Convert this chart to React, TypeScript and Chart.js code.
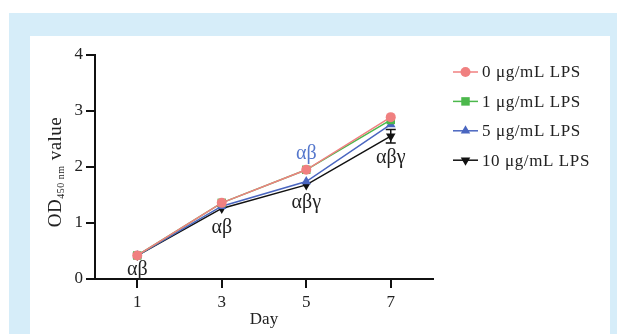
import React, { useEffect, useRef } from 'react';
import { Chart, registerables } from 'chart.js';
import { drawPoint } from 'chart.js/helpers';
Chart.register(...registerables);

const days = [1, 3, 5, 7];
const dayTicks = [1, 3, 5, 7];
const seriesLabels = ['0 μg/mL LPS', '1 μg/mL LPS', '5 μg/mL LPS', '10 μg/mL LPS'];
const lps0 = [0.42, 1.36, 1.95, 2.89];
const lps1 = [0.42, 1.36, 1.95, 2.84];
const lps5 = [0.42, 1.3, 1.74, 2.76];
const lps10 = [0.42, 1.26, 1.68, 2.55];
const lps10Err = [0, 0, 0, 0.12];
const sigTexts = ['αβ', 'αβ', 'αβ', 'αβγ', 'αβγ'];
const sigDayIndex = [0, 1, 2, 2, 3];
const sigSeriesIndex = [3, 3, 0, 3, 3];

const FONT = "'Liberation Serif', 'Times New Roman', Times, serif";
const TEXT = '#222';
const colors = ['#f08080', '#4cb84c', '#4a66c0', '#111111'];
const pointStyles = ['circle', 'rect', 'triangle', 'triangle'];
const pointRotations = [0, 0, 0, 180];
const pointRadii = [5, 6, 5.5, 5.5];
const seriesData = [lps0, lps1, lps5, lps10];
// style: pixel offsets of significance labels from their anchor point
const sigOffsets = [14, 19, -16, 18, 22];
const sigColors = [TEXT, TEXT, '#5577cc', TEXT, TEXT];

const overlay = {
  id: 'overlay',
  beforeDatasetsDraw(chart: any) {
    const ctx = chart.ctx;
    const xs = chart.scales.x;
    const ys = chart.scales.y;
    ctx.save();
    ctx.strokeStyle = '#111';
    ctx.lineWidth = 1.5;
    lps10Err.forEach((e, i) => {
      if (!e) return;
      const x = xs.getPixelForValue(days[i]);
      const yl = ys.getPixelForValue(lps10[i] - e);
      const yh = ys.getPixelForValue(lps10[i] + e);
      ctx.beginPath();
      ctx.moveTo(x, yh);
      ctx.lineTo(x, yl);
      ctx.moveTo(x - 5, yl);
      ctx.lineTo(x + 5, yl);
      ctx.moveTo(x - 5, yh);
      ctx.lineTo(x + 5, yh);
      ctx.stroke();
    });
    ctx.restore();
  },
  afterDatasetsDraw(chart: any) {
    const ctx = chart.ctx;
    const xs = chart.scales.x;
    const ys = chart.scales.y;
    ctx.save();
    ctx.font = `20px ${FONT}`;
    ctx.textAlign = 'center';
    ctx.textBaseline = 'middle';
    sigTexts.forEach((t, k) => {
      const di = sigDayIndex[k];
      const si = sigSeriesIndex[k];
      const x = xs.getPixelForValue(days[di]);
      const y = ys.getPixelForValue(seriesData[si][di]) + sigOffsets[k];
      ctx.fillStyle = sigColors[k];
      ctx.fillText(t, x, y);
    });
    ctx.restore();
  },
  afterDraw(chart: any) {
    const ctx = chart.ctx;
    const ca = chart.chartArea;
    // y-axis title with subscript
    ctx.save();
    const cx = 24;
    const cy = (ca.top + ca.bottom) / 2 + 5;
    ctx.translate(cx, cy);
    ctx.rotate(-Math.PI / 2);
    ctx.fillStyle = TEXT;
    ctx.textBaseline = 'alphabetic';
    ctx.textAlign = 'left';
    (ctx as any).letterSpacing = '0.5px';
    const big = `19px ${FONT}`;
    const small = `10px ${FONT}`;
    ctx.font = big;
    const w1 = ctx.measureText('OD').width;
    const w3 = ctx.measureText(' value').width;
    ctx.font = small;
    const w2 = ctx.measureText('450 nm').width;
    let x0 = -(w1 + w2 + w3) / 2;
    const base = 7;
    ctx.font = big;
    ctx.fillText('OD', x0, base);
    x0 += w1;
    ctx.font = small;
    ctx.fillText('450 nm', x0, base + 3);
    x0 += w2;
    ctx.font = big;
    ctx.fillText(' value', x0, base);
    ctx.restore();

    // legend
    ctx.save();
    const lx0 = 423;
    const lx1 = 448;
    const ly0 = 36;
    const step = 29.4;
    ctx.font = `17px ${FONT}`;
    (ctx as any).letterSpacing = '0.6px';
    ctx.textBaseline = 'middle';
    ctx.textAlign = 'left';
    seriesLabels.forEach((lab, i) => {
      const y = ly0 + i * step;
      ctx.strokeStyle = colors[i];
      ctx.lineWidth = 1.5;
      ctx.beginPath();
      ctx.moveTo(lx0, y);
      ctx.lineTo(lx1, y);
      ctx.stroke();
      ctx.fillStyle = colors[i];
      drawPoint(ctx, { pointStyle: pointStyles[i], rotation: pointRotations[i], radius: pointRadii[i], borderWidth: 0 } as any, (lx0 + lx1) / 2, y);
      ctx.fillStyle = TEXT;
      ctx.fillText(lab, lx1 + 4, y + 1);
    });
    ctx.restore();
  },
};

export default function App() {
  const ref = useRef<HTMLCanvasElement>(null);
  useEffect(() => {
    if (!ref.current) return;
    const chart = new Chart(ref.current, {
      type: 'line',
      data: {
        datasets: seriesData.map((d, i) => ({
          label: seriesLabels[i],
          data: d.map((v, j) => ({ x: days[j], y: v })),
          borderColor: colors[i],
          backgroundColor: colors[i],
          borderWidth: 1.5,
          pointStyle: pointStyles[i] as any,
          rotation: pointRotations[i],
          pointRadius: pointRadii[i],
          pointBorderWidth: 0,
          pointBackgroundColor: colors[i],
          tension: 0,
        })),
      },
      options: {
        responsive: false,
        animation: false,
        events: [],
        layout: { padding: { top: 19, right: 177, left: 0, bottom: 0 } },
        plugins: { legend: { display: false }, tooltip: { enabled: false } },
        scales: {
          x: {
            type: 'linear',
            min: 0,
            max: 8,
            afterBuildTicks: (s: any) => {
              s.ticks = dayTicks.map((v) => ({ value: v }));
            },
            afterFit: (s: any) => {
              s.height = 55;
            },
            ticks: { color: TEXT, font: { family: FONT, size: 17 }, padding: 4, autoSkip: false },
            grid: { display: true, drawOnChartArea: false, drawTicks: true, tickLength: 9, color: '#111', lineWidth: 2 },
            border: { display: true, color: '#111', width: 2 },
            title: { display: true, text: 'Day', color: TEXT, font: { family: FONT, size: 17 }, padding: { top: 4, bottom: 4 } },
          },
          y: {
            min: 0,
            max: 4,
            ticks: { stepSize: 1, color: TEXT, font: { family: FONT, size: 17 }, padding: 3 },
            afterFit: (s: any) => {
              s.width = 65;
            },
            grid: { display: true, drawOnChartArea: false, drawTicks: true, tickLength: 9, color: '#111', lineWidth: 2 },
            border: { display: true, color: '#111', width: 2 },
          },
        },
      },
      plugins: [overlay],
    } as any);
    return () => chart.destroy();
  }, []);
  return (
    <div style={{ position: 'fixed', left: 0, top: 0, width: 617, height: 334, background: '#fff' }}>
      <div style={{ position: 'absolute', left: 9, top: 13, width: 608, height: 321, background: '#d6edf9' }} />
      <div style={{ position: 'absolute', left: 30, top: 36, width: 580, height: 298, background: '#fff' }}>
        <canvas ref={ref} width={580} height={298} style={{ display: 'block' }} />
      </div>
    </div>
  );
}
